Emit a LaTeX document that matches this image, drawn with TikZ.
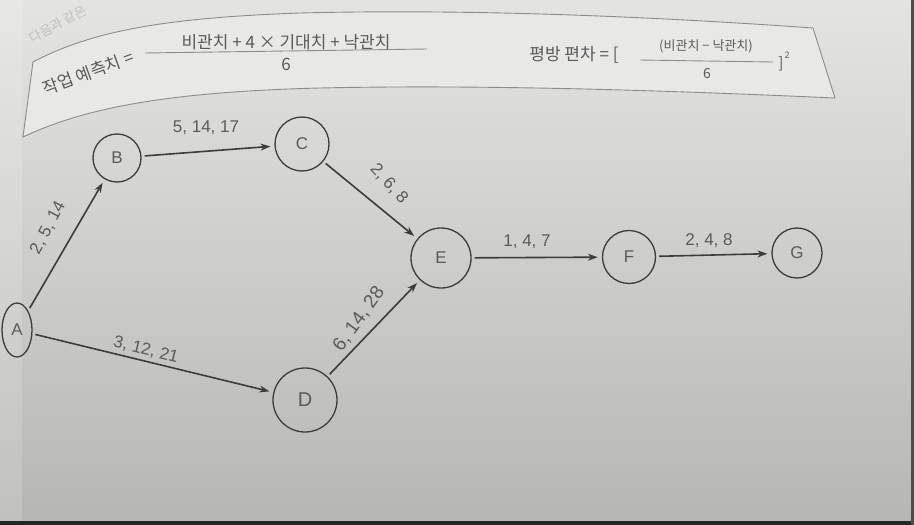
\documentclass[tikz,border=0pt]{standalone}
\usepackage{fontspec}
\setmainfont{Liberation Sans}
\newfontfamily\kor{Noto Sans CJK KR}
\usetikzlibrary{arrows.meta,shapes.geometric}
\definecolor{ink}{HTML}{3C3C3C}
\definecolor{txt}{HTML}{5A5A5A}
\definecolor{bgtop}{HTML}{E4E4E2}
\definecolor{bgmid}{HTML}{D6D6D3}
\definecolor{bgbot}{HTML}{B6B6B2}
\definecolor{boxfill}{HTML}{E8E8E6}
\tikzset{
  evt/.style={circle, draw=ink, line width=1.3pt, text=txt, font=\fontsize{17}{17}\selectfont, inner sep=0pt},
  act/.style={draw=ink, line width=1.6pt, -{Stealth[length=10pt,width=7pt]}, shorten <=3pt, shorten >=4pt},
  lbl/.style={text=txt, font=\fontsize{17}{17}\selectfont, inner sep=1pt},
  hdr/.style={text=txt, font=\kor\fontsize{17}{17}\selectfont, inner sep=1pt},
}
\begin{document}
\begin{tikzpicture}[x=1pt,y=-1pt]
\useasboundingbox (0,0) rectangle (914,525);
% paper background
\shade[top color=bgtop, middle color=bgmid, bottom color=bgbot] (0,0) rectangle (914,525);
\fill[white, opacity=0.15] (0,0) rectangle (22,525);
\fill[black!85] (0,521) rectangle (914,525);
\fill[black!70] (911,0) rectangle (914,525);
% faint cut-off heading
\node[text=black!25, font=\kor\fontsize{13}{13}\selectfont, rotate=28] (hd) at (58,24) {다음과 같은};
% formula box
\draw[draw=black!45, line width=0.9pt, fill=boxfill]
  (33,62) .. controls (90,32) and (160,18) .. (300,13)
  .. controls (500,8) and (700,20) .. (813,28)
  -- (835,98)
  .. controls (700,92) and (500,84) .. (320,88)
  .. controls (160,92) and (80,110) .. (23,137) -- cycle;
\node[hdr, rotate=20] (lhs1) at (88,73) {작업 예측치 =};
\node[hdr] (num1) at (286,42) {비관치 + 4 × 기대치 + 낙관치};
\draw[black!45, line width=0.9pt] (145,53) -- (427,49);
\node[hdr] (den1) at (286,64) {6};
\node[hdr] (lhs2) at (574,55) {평방 편차 = [};
\node[hdr, font=\kor\fontsize{13}{13}\selectfont] (num2) at (706,46) {(비관치 − 낙관치)};
\draw[black!45, line width=0.9pt] (640,60) -- (773,62);
\node[hdr, font=\kor\fontsize{14}{14}\selectfont] (den2) at (707,74) {6};
\node[hdr, font=\kor\fontsize{15}{15}\selectfont] (br2) at (781,64) {]};
\node[hdr, font=\kor\fontsize{9}{9}\selectfont] (sq2) at (787,55) {2};
% events
\node[evt, ellipse, minimum width=30pt, minimum height=54pt] (A) at (17,330) {A};
\node[evt, minimum size=48pt] (B) at (117,158) {B};
\node[evt, minimum size=54pt] (C) at (302,144) {C};
\node[evt, minimum size=60pt] (E) at (441,258) {E};
\node[evt, minimum size=64pt, font=\fontsize{20}{20}\selectfont] (D) at (305,400) {D};
\node[evt, minimum size=53pt] (F) at (629,257) {F};
\node[evt, minimum size=50pt] (G) at (797,253) {G};
% activities
\draw[act] (A) -- (B);
\draw[act] (B) -- (C);
\draw[act] (C) -- (E);
\draw[act] (A) -- (D);
\draw[act] (D) -- (E);
\draw[act] (E) -- (F);
\draw[act] (F) -- (G);
% activity labels
\node[lbl, rotate=62] (lab) at (48,228) {2, 5, 14};
\node[lbl] (lbc) at (206,128) {5, 14, 17};
\node[lbl, rotate=-48] (lce) at (389,184) {2, 6, 8};
\node[lbl, rotate=54, font=\fontsize{19}{19}\selectfont] (lde) at (359,319) {6, 14, 28};
\node[lbl, rotate=-14] (lad) at (146,350) {3, 12, 21};
\node[lbl] (lef) at (527,242) {1, 4, 7};
\node[lbl] (lfg) at (709,241) {2, 4, 8};
\end{tikzpicture}
\end{document}
